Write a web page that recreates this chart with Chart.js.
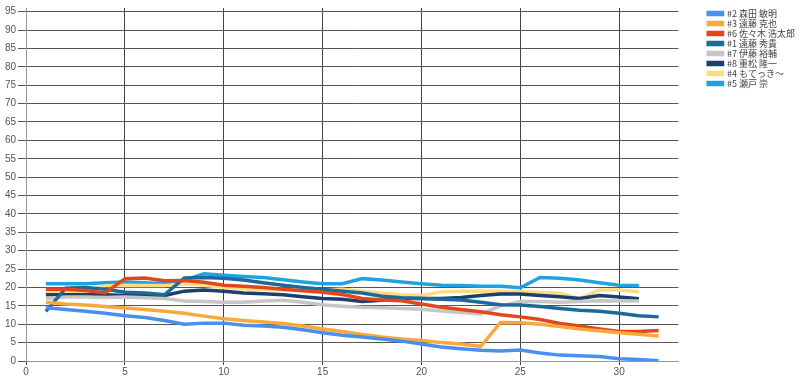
<!DOCTYPE html>
<html>
<head>
<meta charset="utf-8">
<script src="https://cdn.jsdelivr.net/npm/chart.js@4.4.0/dist/chart.umd.min.js"></script>
<style>
  html, body { margin: 0; padding: 0; background: #fff; }
  #wrap { width: 800px; height: 385px; }
</style>
</head>
<body>
<div id="wrap"><canvas id="rankChart"></canvas></div>
<script>
// Data
const days = [1, 2, 3, 4, 5, 6, 7, 8, 9, 10, 11, 12, 13, 14, 15, 16, 17, 18, 19, 20, 21, 22, 23, 24, 25, 26, 27, 28, 29, 30, 31, 32];

const players = ['#2 森田 敏明', '#3 遠藤 克也', '#6 佐々木 浩太郎', '#1 遠藤 秀貴', '#7 伊藤 裕輔', '#8 重松 隆一', '#4 もてっき～', '#5 瀬戸 崇'];

const moritaSeries = [14.5, 14, 13.5, 13, 12.3, 11.8, 11, 10, 10.3, 10.3, 9.7, 9.5, 9.2, 8.5, 7.7, 7, 6.5, 6, 5.4, 4.6, 3.8, 3.3, 2.9, 2.7, 3, 2.2, 1.6, 1.4, 1.2, 0.6, 0.4, 0.1];
const endoKSeries = [16, 15.5, 15.2, 14.8, 14.4, 14, 13.5, 13, 12.2, 11.5, 11, 10.6, 10.2, 9.5, 8.7, 8, 7.2, 6.5, 6, 5.6, 5, 4.6, 4, 10.5, 10.4, 10, 9.4, 8.7, 8.2, 7.7, 7.3, 6.8];
const sasakiSeries = [19.5, 19.5, 19.2, 18.5, 22.4, 22.6, 21.8, 21.9, 21.4, 20.6, 20.3, 20, 19.5, 19.1, 18.7, 18.1, 17, 16.6, 16.4, 15.5, 14.6, 14, 13.4, 12.6, 12, 11.3, 10.2, 9.5, 8.7, 8, 8, 8.3];
const endoHSeries = [13.5, 19.8, 20, 19.5, 18.7, 18.5, 18, 22.6, 22.7, 22.5, 22, 21.3, 20.6, 20, 19.5, 19, 18.5, 17.6, 17.2, 17, 16.8, 16.6, 16, 15.3, 15.2, 14.8, 14.3, 13.8, 13.5, 13, 12.3, 12];
const itoSeries = [17, 17.4, 17.4, 17.3, 17.4, 17.2, 17, 16.3, 16.2, 16, 16, 16.3, 16.5, 16, 15.3, 14.9, 14.6, 14.5, 14.3, 14.1, 13.6, 13.2, 12.8, 15, 16.2, 16.2, 16, 16.2, 16.4, 16.3, 16.3];
const shigematsuSeries = [18, 18, 18, 18, 17.8, 17.8, 17.8, 19, 19.3, 19, 18.5, 18.3, 18, 17.5, 17, 16.8, 16.2, 16.5, 17, 17, 17, 17.3, 17.8, 18.2, 18.2, 17.8, 17.5, 17, 17.8, 17.4, 16.9];
const motekkiSeries = [18.5, 19, 18.5, 20.5, 20.6, 20.5, 20.5, 21, 20.6, 20, 19.6, 19.5, 19.3, 19.3, 19.3, 19.5, 19, 18.4, 18, 17.8, 18.8, 19, 19, 19, 18.8, 18.6, 18.4, 17, 19.3, 19.3, 18.8];
const setoSeries = [21, 21, 21, 21.3, 21.5, 21.3, 21, 22, 23.7, 23.3, 23, 22.7, 22.1, 21.5, 21, 21, 22.4, 22, 21.5, 21, 20.6, 20.5, 20.3, 20.3, 19.9, 22.7, 22.5, 22, 21.3, 20.6, 20.5];

const seriesValues = [moritaSeries, endoKSeries, sasakiSeries, endoHSeries, itoSeries, shigematsuSeries, motekkiSeries, setoSeries];
const seriesColors = ['#4a8ef0', '#f8a93c', '#e2461c', '#1a6a9a', '#c6c6c6', '#1c3f6e', '#fddc80', '#1fa3e0'];

const yTicks = [0, 5, 10, 15, 20, 25, 30, 35, 40, 45, 50, 55, 60, 65, 70, 75, 80, 85, 90, 95];
const xTicks = [0, 5, 10, 15, 20, 25, 30];

// extra room between plot and legend
const legendGap = 23;
const legendShiftX = 28;

function buildDatasets() {
    return players.map(function(name, i) {
        return {
            label: name,
            data: seriesValues[i].map(function(v, j) { return { x: days[j], y: v }; }),
            borderColor: seriesColors[i],
            backgroundColor: seriesColors[i],
            borderWidth: 3.5,
            pointRadius: 0,
            tension: 0,
            fill: false
        };
    });
}

// widen the legend box but draw its items shifted right
const legendShift = {
    id: 'legendShift',
    afterInit: function(chart) {
        const lg = chart.legend;
        const fit = lg.fit;
        const draw = lg.draw;
        lg.fit = function() {
            fit.call(this);
            this.width += legendGap;
        };
        lg.draw = function() {
            const c = this.ctx;
            c.save();
            c.translate(legendShiftX, 0);
            draw.call(this);
            c.restore();
        };
    }
};

const ctx = document.getElementById('rankChart').getContext('2d');

new Chart(ctx, {
    type: 'line',
    data: { datasets: buildDatasets() },
    plugins: [legendShift],
    options: {
        responsive: true,
        maintainAspectRatio: false,
        animation: false,
        layout: {
            padding: { left: 3, top: 8, right: 0, bottom: 6 }
        },
        plugins: {
            tooltip: { enabled: false },
            legend: {
                position: 'right',
                align: 'start',
                labels: {
                    boxWidth: 15,
                    boxHeight: 2,
                    padding: 1,
                    color: '#444',
                    font: { family: '"Noto Sans CJK JP", "Noto Sans", sans-serif', size: 9, lineHeight: 0.9 }
                }
            }
        },
        scales: {
            x: {
                type: 'linear',
                min: 0,
                max: 33,
                afterBuildTicks: function(axis) {
                    axis.ticks = xTicks.map(function(v) { return { value: v }; });
                },
                grid: { color: '#444', lineWidth: 1, tickLength: 4 },
                border: { color: '#999' },
                ticks: {
                    color: '#555',
                    padding: 1,
                    maxRotation: 0,
                    font: { family: 'Arial, "Liberation Sans", sans-serif', size: 10 }
                }
            },
            y: {
                type: 'linear',
                min: 0,
                max: 96,
                afterBuildTicks: function(axis) {
                    axis.ticks = yTicks.map(function(v) { return { value: v }; });
                },
                grid: { color: '#555', lineWidth: 1, tickLength: 8 },
                border: { color: '#999' },
                ticks: {
                    color: '#555',
                    padding: 2,
                    font: { family: 'Arial, "Liberation Sans", sans-serif', size: 10 }
                }
            }
        }
    }
});
</script>
</body>
</html>
